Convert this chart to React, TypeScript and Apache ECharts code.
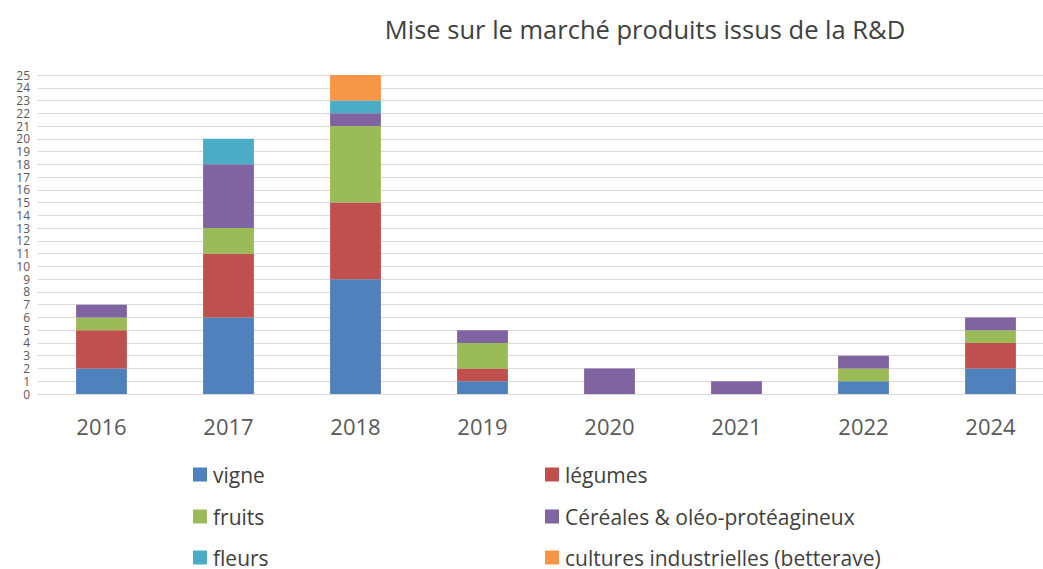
import React, { useEffect, useRef } from "react";
import * as echarts from "echarts";

const years = ["2016", "2017", "2018", "2019", "2020", "2021", "2022", "2024"];
const vigne = [2, 6, 9, 1, 0, 0, 1, 2];
const legumes = [3, 5, 6, 1, 0, 0, 0, 2];
const fruits = [1, 2, 6, 2, 0, 0, 1, 1];
const cereales = [1, 5, 1, 1, 2, 1, 1, 1];
const fleurs = [0, 2, 1, 0, 0, 0, 0, 0];
const cultures = [0, 0, 2, 0, 0, 0, 0, 0];

const seriesDefs = [
  { name: "vigne", data: vigne, color: "#4f81bd" },
  { name: "légumes", data: legumes, color: "#c0504d" },
  { name: "fruits", data: fruits, color: "#9bbb59" },
  { name: "Céréales & oléo-protéagineux", data: cereales, color: "#8064a2" },
  { name: "fleurs", data: fleurs, color: "#4bacc6" },
  { name: "cultures industrielles (betterave)", data: cultures, color: "#f79646" },
];

const FONT = "'Open Sans', sans-serif";

// legend grid: 2 columns x 3 rows (index in seriesDefs order)
const legendCols = [193, 545];
const legendRows = [464, 506, 547];

export default function App() {
  const ref = useRef<HTMLDivElement>(null);
  useEffect(() => {
    if (!ref.current) return;
    const chart = echarts.init(ref.current, null, { renderer: "svg" });
    const legendText = {
      fontSize: 21,
      color: "#404040",
      fontFamily: FONT,
      padding: [0, 0, 0, 1],
    };
    const legends = seriesDefs.map((s, i) => ({
      data: [s.name],
      left: legendCols[i % 2],
      top: legendRows[Math.floor(i / 2)],
      padding: 0,
      itemWidth: 14,
      itemHeight: 14,
      icon: "rect",
      textStyle: legendText,
    }));
    chart.setOption({
      animation: false,
      backgroundColor: "#ffffff",
      title: {
        text: "Mise sur le marché produits issus de la R&D",
        left: 640,
        top: 11,
        textAlign: "center",
        textStyle: { fontSize: 25.5, fontWeight: "normal", color: "#404040", fontFamily: FONT },
      },
      legend: legends,
      grid: {
        left: 38,
        width: 1016,
        top: 75,
        bottom: 175,
        containLabel: false,
        outerBoundsMode: "none",
      },
      xAxis: {
        type: "category",
        data: years,
        axisLine: { show: true, lineStyle: { color: "#d9d9d9", width: 1 } },
        axisTick: { show: false },
        axisLabel: { fontSize: 22, color: "#595959", fontFamily: FONT, margin: 21 },
      },
      yAxis: {
        type: "value",
        min: 0,
        max: 25,
        interval: 1,
        axisLine: { show: false },
        axisTick: { show: false },
        axisLabel: { fontSize: 12, color: "#595959", fontFamily: FONT, margin: 8, lineHeight: 12 },
        splitLine: { lineStyle: { color: "#d9d9d9", width: 1 } },
      },
      series: seriesDefs.map((s) => ({
        name: s.name,
        type: "bar",
        stack: "total",
        data: s.data,
        barWidth: "40%",
        itemStyle: { color: s.color },
      })),
    });
    return () => chart.dispose();
  }, []);
  return <div ref={ref} style={{ width: 1043, height: 569, position: "absolute", left: 0, top: 0 }} />;
}
